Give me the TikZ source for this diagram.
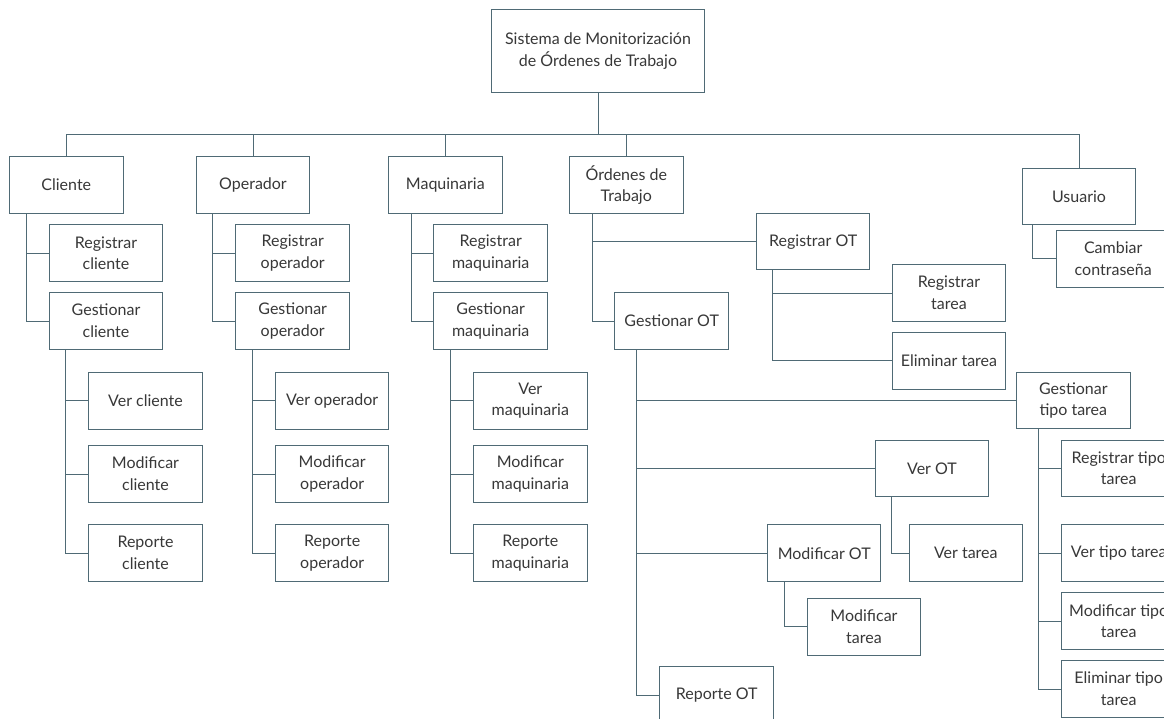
\documentclass[tikz,border=0pt]{standalone}
\usepackage{fontspec}
\setmainfont{Lato}
\usetikzlibrary{backgrounds}
\definecolor{linec}{HTML}{4F6A75}
\definecolor{textc}{HTML}{383838}
\begin{document}
\begin{tikzpicture}[x=1pt,y=-1pt,
  box/.style={draw=linec, line width=1pt, fill=white, minimum width=113.5pt,
    minimum height=56.6pt, inner sep=0pt, align=center, text=textc,
    font=\fontsize{16}{21.7}\selectfont},
  link/.style={draw=linec, line width=1pt}]
\useasboundingbox (0,0) rectangle (1164,719);
\clip (0,0) rectangle (1164,719);

% root and first level
\node[box, minimum width=212.6pt, minimum height=83pt] (root) at (598,50.8)
  {Sistema de Monitorización\\de Órdenes de Trabajo};
\node[box] (cliente)    at (66.3,185)  {Cliente};
\node[box] (operador)   at (253,185)   {Operador};
\node[box] (maquinaria) at (445.3,185) {Maquinaria};
\node[box] (ordenes)    at (626.3,185) {Órdenes de\\Trabajo};
\node[box] (usuario)    at (1079,196.7) {Usuario};

% second level
\node[box] (regcli) at (106,253.3)   {Registrar\\cliente};
\node[box] (gescli) at (106,321)     {Gestionar\\cliente};
\node[box] (regop)  at (292.7,253.3) {Registrar\\operador};
\node[box] (gesop)  at (292.7,321)   {Gestionar\\operador};
\node[box] (regmaq) at (490.7,253.3) {Registrar\\maquinaria};
\node[box] (gesmaq) at (490.7,321)   {Gestionar\\maquinaria};
\node[box] (regot)  at (813.2,241.7) {Registrar OT};
\node[box] (gesot)  at (671.7,321)   {Gestionar OT};
\node[box] (cambiar) at (1113.2,258.7) {Cambiar\\contraseña};

% third level
\node[box] (regtar)  at (949,293)     {Registrar\\tarea};
\node[box] (elimtar) at (949,360.8)   {Eliminar tarea};
\node[box] (vercli) at (145.5,400.7) {Ver cliente};
\node[box] (modcli) at (145.5,474)   {Modificar\\cliente};
\node[box] (repcli) at (145.5,553)   {Reporte\\cliente};
\node[box] (verop)  at (332.2,400.7) {Ver operador};
\node[box] (modop)  at (332.2,474)   {Modificar\\operador};
\node[box] (repop)  at (332.2,553)   {Reporte\\operador};
\node[box] (vermaq) at (530.3,400.7) {Ver\\maquinaria};
\node[box] (modmaq) at (530.3,474)   {Modificar\\maquinaria};
\node[box] (repmaq) at (530.3,553)   {Reporte\\maquinaria};
\node[box] (gestipo) at (1073.3,400.5) {Gestionar\\tipo tarea};
\node[box] (verot)   at (932,468.3)    {Ver OT};
\node[box] (modot)   at (824.2,553.2)  {Modificar OT};
\node[box] (reot)    at (716.7,695)    {Reporte OT};

% fourth level
\node[box] (vertar)  at (965.8,553.2)  {Ver tarea};
\node[box] (modtar)  at (864,626.7)    {Modificar\\tarea};
\node[box] (regtipo) at (1118.7,468.3) {Registrar tipo\\tarea};
\node[box] (vertipo) at (1118.7,553.2) {Ver tipo tarea};
\node[box] (modtipo) at (1118.7,621.2) {Modificar tipo\\tarea};
\node[box] (elimtipo) at (1118.7,689)  {Eliminar tipo\\tarea};

\begin{pgfonlayer}{background}
% bus under the root
\coordinate (busL) at (66.3,134.3);
\coordinate (busR) at (1079,134.3);
\draw[link] (busL) -- (busR);
\draw[link] (root.south) -- (root.south |- busL);
\foreach \n in {cliente,operador,maquinaria,ordenes,usuario}
  \draw[link] (\n.north) -- (\n.north |- busL);

% elbow connectors
\draw[link] ([xshift=17.4pt]cliente.south west) |- (regcli.west);
\draw[link] ([xshift=17.4pt]cliente.south west) |- (gescli.west);
\draw[link] ([xshift=17pt]operador.south west) |- (regop.west);
\draw[link] ([xshift=17pt]operador.south west) |- (gesop.west);
\draw[link] ([xshift=23.4pt]maquinaria.south west) |- (regmaq.west);
\draw[link] ([xshift=23.4pt]maquinaria.south west) |- (gesmaq.west);
\draw[link] ([xshift=23pt]ordenes.south west) |- (regot.west);
\draw[link] ([xshift=23pt]ordenes.south west) |- (gesot.west);
\draw[link] ([xshift=11pt]usuario.south west) |- (cambiar.west);

\foreach \c in {vercli,modcli,repcli}
  \draw[link] ([xshift=17pt]gescli.south west) |- (\c.west);
\foreach \c in {verop,modop,repop}
  \draw[link] ([xshift=17pt]gesop.south west) |- (\c.west);
\foreach \c in {vermaq,modmaq,repmaq}
  \draw[link] ([xshift=16.7pt]gesmaq.south west) |- (\c.west);
\foreach \c in {regtar,elimtar}
  \draw[link] ([xshift=17pt]regot.south west) |- (\c.west);
\foreach \c in {gestipo,verot,modot,reot}
  \draw[link] ([xshift=22.5pt]gesot.south west) |- (\c.west);
\draw[link] ([xshift=17pt]verot.south west) |- (vertar.west);
\draw[link] ([xshift=17.4pt]modot.south west) |- (modtar.west);
\foreach \c in {regtipo,vertipo,modtipo,elimtipo}
  \draw[link] ([xshift=22.6pt]gestipo.south west) |- (\c.west);
\end{pgfonlayer}
\end{tikzpicture}
\end{document}
